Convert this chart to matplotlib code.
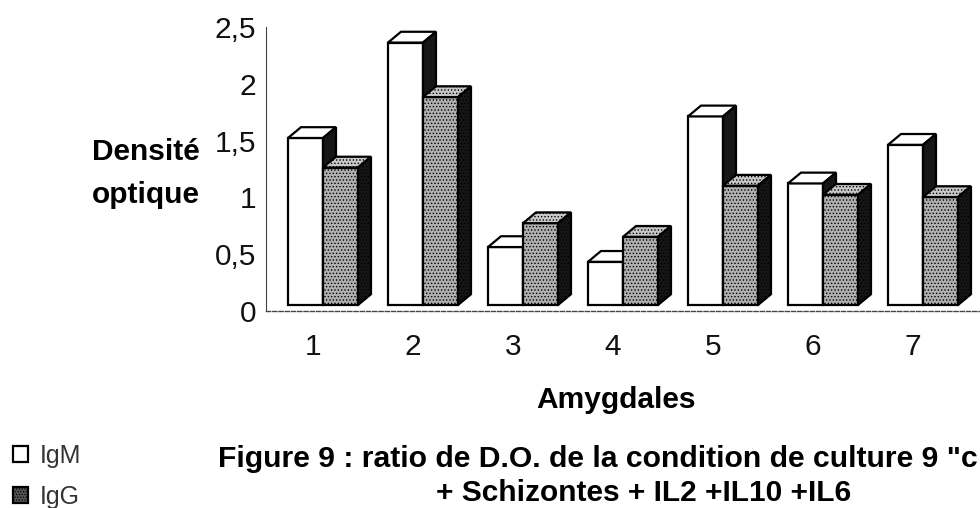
import matplotlib
matplotlib.use("Agg")
import matplotlib.pyplot as plt
from matplotlib.patches import Polygon, Patch

plt.rcParams['font.family'] = ['Liberation Sans', 'DejaVu Sans']
plt.rcParams['hatch.linewidth'] = 0.6

# Valeurs
amygdales = [1, 2, 3, 4, 5, 6, 7]
igm = [1.47, 2.31, 0.51, 0.38, 1.66, 1.07, 1.41]
igg = [1.21, 1.83, 0.72, 0.60, 1.05, 0.97, 0.95]
yticks = [0, 0.5, 1, 1.5, 2, 2.5]
ylabels = ['0', '0,5', '1', '1,5', '2', '2,5']

W, H = 980, 508
fig = plt.figure(figsize=(W / 100, H / 100), dpi=100, facecolor='white')
ax = fig.add_axes([265.5 / W, (H - 311) / H, (W - 265.5) / W, 284 / H])
ax.set_xlim(0.425, 7.57)
ax.set_ylim(0, 2.5)

largeur = 0.35
dx, dy = 0.13, 0.095
base = 0.053


def barre(x, v, face, cote, dessus, hatch=None):
    # face avant, dessus et cote droit de la barre 3D
    haut = base + v
    poly = [
        ([(x, base), (x + largeur, base), (x + largeur, haut), (x, haut)], face),
        ([(x, haut), (x + largeur, haut), (x + largeur + dx, haut + dy), (x + dx, haut + dy)], dessus),
        ([(x + largeur, base), (x + largeur + dx, base + dy), (x + largeur + dx, haut + dy), (x + largeur, haut)], cote),
    ]
    for pts, couleur in poly:
        ax.add_patch(Polygon(pts, closed=True, facecolor=couleur, edgecolor='black',
                             linewidth=1.6, hatch=hatch, clip_on=False))


for a, m, g in zip(amygdales, igm, igg):
    barre(a - largeur, m, 'white', '#161616', 'white')
    barre(a, g, '#b0b0b0', '#161616', '#c8c8c8', hatch='.....')

for s in ['top', 'right']:
    ax.spines[s].set_visible(False)
ax.spines['left'].set_linewidth(0.8)
ax.spines['left'].set_color('#444444')
ax.spines['bottom'].set_linewidth(1.0)
ax.spines['bottom'].set_color('#444444')
ax.spines['bottom'].set_linestyle((0, (3, 1.5)))

ax.set_yticks(yticks)
ax.set_yticklabels(ylabels, fontsize=21.5, color='#111111')
ax.tick_params(axis='y', length=0, pad=6.5)
ax.set_xticks([a - 0.1 for a in amygdales])
ax.set_xticklabels(amygdales, fontsize=21.5, color='#111111')
ax.tick_params(axis='x', length=0, pad=15.5)

fig.text(146 / W, 1 - 152 / H, 'Densité', fontsize=21.5, fontweight='bold', ha='center', va='center')
fig.text(146 / W, 1 - 195 / H, 'optique', fontsize=21.5, fontweight='bold', ha='center', va='center')
fig.text(616 / W, 1 - 400 / H, 'Amygdales', fontsize=21.5, fontweight='bold', ha='center', va='center')
fig.text(218 / W, 1 - 459 / H, 'Figure 9 : ratio de D.O. de la condition de culture 9 "c',
         fontsize=21.7, fontweight='bold', ha='left', va='center')
fig.text(436 / W, 1 - 493 / H, '+ Schizontes + IL2 +IL10 +IL6',
         fontsize=21.5, fontweight='bold', ha='left', va='center')

poignees = [Patch(facecolor='white', edgecolor='black', linewidth=1.6, label='IgM'),
            Patch(facecolor='#555555', edgecolor='black', linewidth=1.6, hatch='......', label='IgG')]
fig.legend(handles=poignees, loc='upper left', bbox_to_anchor=(13 / W, 1 - 444 / H), frameon=False,
           fontsize=18, handlelength=0.6, handleheight=0.6, handletextpad=0.45, labelspacing=0.68,
           labelcolor='#333333', borderpad=0, borderaxespad=0)

fig.savefig('out.png', dpi=100)
